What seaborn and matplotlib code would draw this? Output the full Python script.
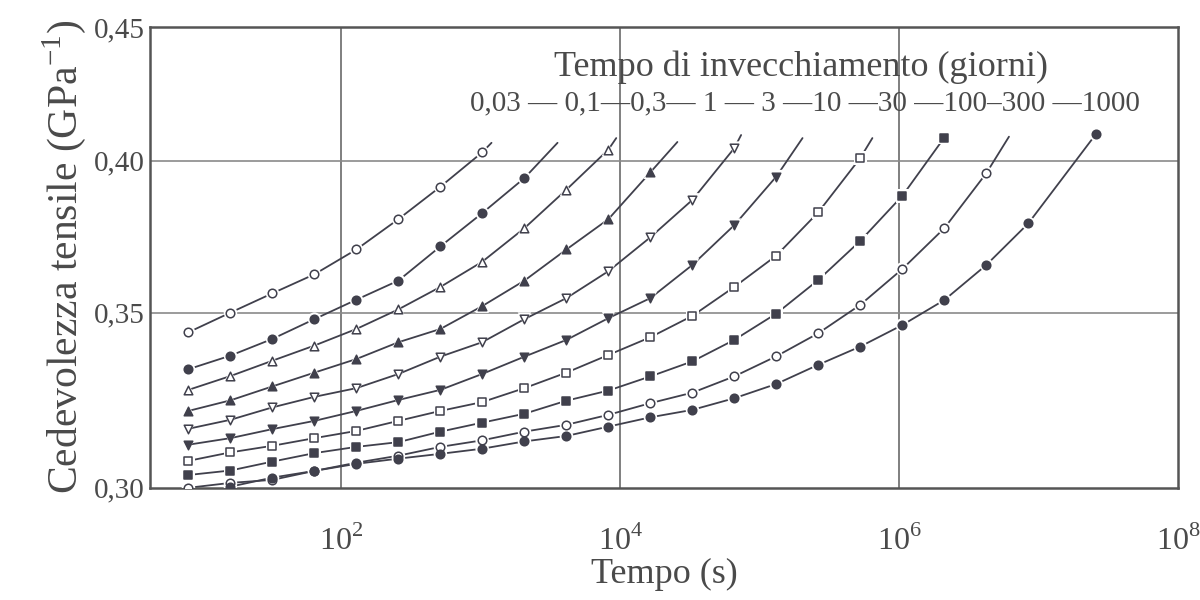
import numpy as np
import pandas as pd
import matplotlib
matplotlib.use("Agg")
import matplotlib.pyplot as plt
import matplotlib.ticker as mticker
import seaborn as sns

t_grid = [8, 16, 32, 64, 128, 256, 512, 1020, 2050, 4100, 8200, 16400,
          32800, 65500, 131000, 262000, 524000, 1.05e6, 2.1e6, 4.2e6, 8.4e6]

aging = ["0,03", "0,1", "0,3", "1", "3", "10", "30", "100", "300", "1000"]

# tensile compliance (GPa^-1) for each ageing time
v_003 = [0.344, 0.350, 0.356, 0.362, 0.370, 0.380, 0.391, 0.403]
v_01 = [0.333, 0.337, 0.342, 0.348, 0.354, 0.360, 0.371, 0.382, 0.394]
v_03 = [0.327, 0.331, 0.3355, 0.340, 0.345, 0.351, 0.358, 0.366, 0.377, 0.390, 0.404]
v_1 = [0.321, 0.324, 0.328, 0.332, 0.336, 0.341, 0.345, 0.352, 0.360, 0.370, 0.380, 0.396]
v_3 = [0.316, 0.3185, 0.322, 0.325, 0.3275, 0.3316, 0.3367, 0.341, 0.348, 0.3545,
       0.363, 0.374, 0.3865, 0.4045]
v_10 = [0.3116, 0.3134, 0.3159, 0.3182, 0.321, 0.3241, 0.327, 0.3316, 0.3367, 0.3417,
        0.3483, 0.3545, 0.365, 0.378, 0.3945]
v_30 = [0.3072, 0.3095, 0.3113, 0.3134, 0.3154, 0.3182, 0.321, 0.3235, 0.3275, 0.332,
        0.3372, 0.3425, 0.349, 0.358, 0.368, 0.3823, 0.401]
v_100 = [0.3034, 0.3046, 0.307, 0.3093, 0.311, 0.3123, 0.3152, 0.3177, 0.3202, 0.3239,
         0.3268, 0.3309, 0.3353, 0.3417, 0.3497, 0.3602, 0.3728, 0.3879, 0.4083]
v_300 = [0.300, 0.3013, 0.3021, 0.3045, 0.3067, 0.3086, 0.311, 0.3128, 0.3152, 0.3171,
         0.3199, 0.3232, 0.3262, 0.3309, 0.3368, 0.3437, 0.3524, 0.3637, 0.377, 0.3957]
v_1000 = [0.3003, 0.3027, 0.3045, 0.3064, 0.3078, 0.3091, 0.3105, 0.3125, 0.314, 0.3166,
          0.3192, 0.3213, 0.3246, 0.3287, 0.3343, 0.3397, 0.3462, 0.3539, 0.365, 0.3786,
          0.4095]
t_1000 = t_grid[1:] + [2.56e7]

# where each fitted curve runs out (beyond its last point)
end_t = [1190, 3540, 9330, 25600, 73300, 2.02e5, 6.4e5, None, 6.1e6, None]
end_v = [0.4064, 0.4064, 0.4081, 0.4067, 0.4092, 0.4081, 0.4081, None, 0.4086, None]

values = [v_003, v_01, v_03, v_1, v_3, v_10, v_30, v_100, v_300, v_1000]
times = [t_grid[:len(v)] for v in values[:-1]] + [t_1000]

markers = ["o", "o", "^", "^", "v", "v", "s", "s", "o", "o"]
filled = [False, True, False, True, False, True, False, True, False, True]

ink = "#40404c"
txt = "#4a4a4a"

sns.set_style("white")
plt.rcParams["font.family"] = ["Liberation Serif", "DejaVu Serif"]
plt.rcParams["mathtext.fontset"] = "custom"
plt.rcParams["mathtext.rm"] = "Liberation Serif"

fig = plt.figure(figsize=(12, 6), dpi=100)
ax = fig.add_axes([0.125, 0.187, 0.857, 0.768])

for i, lab in enumerate(aging):
    t = list(times[i])
    v = list(values[i])
    lt, lv = t[:], v[:]
    if end_t[i] is not None:
        lt.append(end_t[i])
        lv.append(end_v[i])
    sns.lineplot(x=lt, y=lv, ax=ax, color=ink, lw=1.3, sort=False, estimator=None)
    # white halo so the line breaks around each marker
    sns.scatterplot(x=t, y=v, ax=ax, marker=markers[i], s=95, color="white",
                    edgecolor="none", zorder=3)
    sns.scatterplot(x=t, y=v, ax=ax, marker=markers[i], s=38,
                    facecolor=ink if filled[i] else "white", edgecolor=ink,
                    linewidth=1.1, zorder=4)

ax.set_xscale("log")
ax.set_yscale("log")
ax.set_xlim(4.24, 1e8)
ax.set_ylim(0.30, 0.45)

for xg in [1e2, 1e4, 1e6]:
    ax.axvline(xg, color="#6a6a6a", lw=1.2, zorder=1)
for yg in [0.35, 0.40]:
    ax.axhline(yg, color="#8a8a8a", lw=1.2, zorder=1)

ax.xaxis.set_major_locator(mticker.FixedLocator([1e2, 1e3, 1e4, 1e5, 1e6, 1e7, 1e8]))
ax.xaxis.set_minor_locator(mticker.NullLocator())
ax.set_xticklabels([r"$10^{2}$", "", r"$10^{4}$", "", r"$10^{6}$", "", r"$10^{8}$"])
ax.yaxis.set_major_locator(mticker.FixedLocator([0.30, 0.35, 0.40, 0.45]))
ax.yaxis.set_minor_locator(mticker.NullLocator())
ax.set_yticklabels(["0,30", "0,35", "0,40", "0,45"])

ax.tick_params(axis="x", direction="in", length=6, width=1.2, color="#555555",
               labelsize=23, labelcolor=txt, pad=27)
ax.tick_params(axis="y", direction="out", length=3, width=1.2, color="#555555",
               labelsize=21, labelcolor=txt, pad=1)
for sp in ax.spines.values():
    sp.set_color("#555555")
    sp.set_linewidth(1.8)

ax.set_xlabel("Tempo (s)", fontsize=26, color=txt, labelpad=1)
ax.set_ylabel(r"Cedevolezza tensile (GPa$^{-1}$)", fontsize=30, color=txt, labelpad=4)

fig.text(0.6675, 0.888, "Tempo di invecchiamento (giorni)", fontsize=26, color=txt,
         ha="center", va="center")
fig.text(0.671, 0.828,
         "0,03 \u2014 0,1\u20140,3\u2014 1 \u2014 3 \u201410 \u201430 \u2014100\u2013300 \u20141000",
         fontsize=21, color=txt, ha="center", va="center")

fig.savefig("out.png", dpi=100)
